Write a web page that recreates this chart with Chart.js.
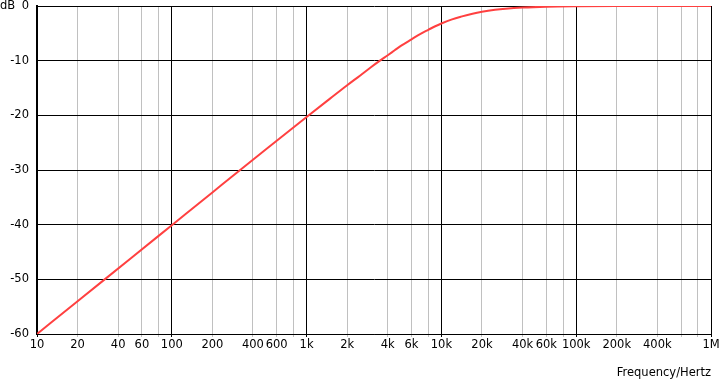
<!DOCTYPE html>
<html><head><meta charset="utf-8">
<script src="https://cdn.jsdelivr.net/npm/chart.js@4/dist/chart.umd.min.js"></script>
<style>html,body{margin:0;padding:0;background:#fff}#wrap{width:720px;height:380px}</style>
</head><body><div id="wrap"><canvas id="c" width="720" height="380"></canvas></div>
<script>
const freqs = [10,20,50,100,200,500,1000,1500,2000,2500,3000,3500,4000,4500,5000,6000,7000,8000,9000,10000,12000,14000,17000,20000,25000,30000,40000,60000,100000,200000,1000000];
const gainDb = [-60,-54,-46.1,-40.1,-34.1,-26.2,-20.3,-16.9,-14.5,-12.7,-11.2,-10.0,-9.0,-8.1,-7.3,-6.1,-5.1,-4.35,-3.7,-3.2,-2.45,-1.95,-1.4,-1.05,-0.7,-0.5,-0.29,-0.13,-0.05,-0.012,0];
const xTickValues = [10,20,40,60,80,100,200,400,600,800,1000,2000,4000,6000,8000,10000,20000,40000,60000,80000,100000,200000,400000,600000,800000,1000000];
const xTickLabels = ['10','20','40','60','','100','200','400','600','','1k','2k','4k','6k','','10k','20k','40k','60k','','100k','200k','400k','','','1M'];
const yTickValues = [0,-10,-20,-30,-40,-50,-60];
const yUnit = 'dB';
const xTitle = 'Frequency/Hertz';

const FONT = {family:'DejaVu Sans', size:11.5};
const isMajor = v => Math.abs(Math.log10(v) - Math.round(Math.log10(v))) < 1e-9;

const extraText = {
  id:'extraText',
  afterDraw(chart){
    const ctx = chart.ctx;
    ctx.save();
    ctx.font = '11.5px "DejaVu Sans"';
    ctx.fillStyle = '#000';
    ctx.textAlign = 'left';
    ctx.textBaseline = 'middle';
    ctx.fillText(yUnit, 0, chart.scales.y.getPixelForValue(0));
    ctx.restore();
  }
};

new Chart(document.getElementById('c'), {
  type:'line',
  data:{datasets:[{
    data: freqs.map((f,i)=>({x:f,y:gainDb[i]})),
    borderColor:'rgb(255,64,64)', borderWidth:2, pointRadius:0, fill:false,
    cubicInterpolationMode:'monotone'
  }]},
  options:{
    responsive:false, animation:false, devicePixelRatio:1,
    layout:{padding:{left:0,right:9,top:6,bottom:0}},
    plugins:{legend:{display:false}, tooltip:{enabled:false}},
    scales:{
      x:{
        type:'logarithmic', min:10, max:1000000,
        afterBuildTicks(s){ s.ticks = xTickValues.map(v=>({value:v})); },
        afterFit(s){ s.height = 46; s.paddingLeft = 0; s.paddingRight = 0; },
        ticks:{ autoSkip:false, maxRotation:0, color:'#000', font:FONT, padding:1,
          callback(v){ const i = xTickValues.indexOf(v); return i>=0 ? xTickLabels[i] : ''; } },
        grid:{ color:ctx => (ctx.tick && isMajor(ctx.tick.value)) ? '#000' : '#c0c0c0', lineWidth:1, tickLength:3, drawTicks:true },
        border:{ color:'#000', width:1 },
        title:{ display:true, text:xTitle, align:'end', color:'#000', font:FONT, padding:{top:8,bottom:0} }
      },
      y:{
        type:'linear', min:-60, max:0,
        afterBuildTicks(s){ s.ticks = yTickValues.map(v=>({value:v})); },
        afterFit(s){ s.width = 37; s.paddingTop = 0; s.paddingBottom = 0; },
        ticks:{ color:'#000', font:FONT, padding:8 },
        grid:{ color:'#000', lineWidth:1, drawTicks:false },
        border:{ color:'#000', width:2 }
      }
    }
  },
  plugins:[extraText]
});
</script></body></html>
